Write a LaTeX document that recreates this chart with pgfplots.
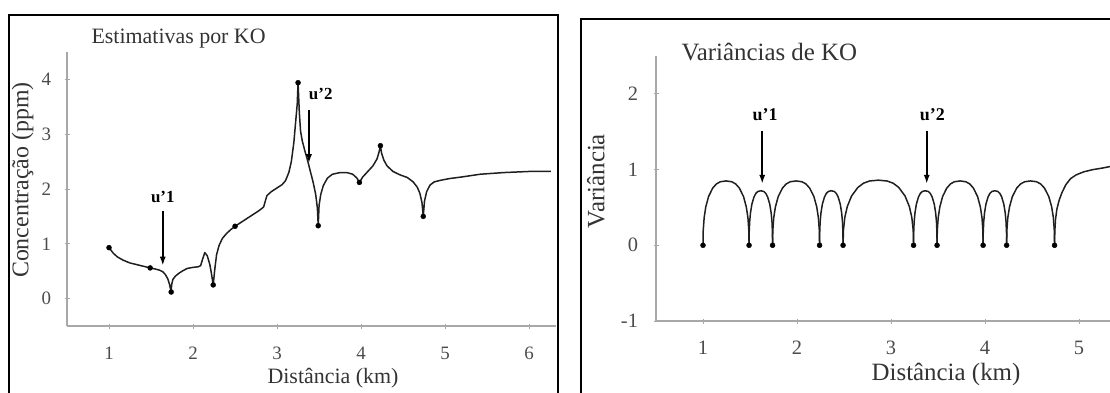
\documentclass[border=0pt]{standalone}
\usepackage{fontspec}
\setmainfont{Liberation Serif}
\usepackage{pgfplots}
\pgfplotsset{compat=1.18}
\usetikzlibrary{arrows.meta}

\definecolor{axgray}{gray}{0.66}
\definecolor{tickgray}{gray}{0.30}
\definecolor{curvec}{gray}{0.12}

\pgfplotstableread{
x y
1.00 0.93
1.05 0.83
1.10 0.76
1.17 0.70
1.25 0.65
1.33 0.62
1.41 0.59
1.49 0.56
1.55 0.54
1.60 0.52
1.64 0.49
1.67 0.44
1.70 0.36
1.72 0.26
1.74 0.12
1.745 0.25
1.76 0.35
1.79 0.41
1.83 0.46
1.88 0.51
1.93 0.55
2.00 0.57
2.06 0.58
2.09 0.60
2.11 0.70
2.14 0.84
2.17 0.78
2.20 0.62
2.22 0.45
2.24 0.25
2.26 0.55
2.28 0.80
2.31 0.97
2.35 1.10
2.40 1.19
2.45 1.26
2.50 1.32
2.58 1.40
2.68 1.50
2.78 1.60
2.84 1.67
2.86 1.78
2.88 1.88
2.93 1.95
3.00 2.02
3.06 2.08
3.10 2.15
3.14 2.30
3.17 2.50
3.20 2.85
3.22 3.20
3.24 3.55
3.25 3.94
3.265 3.40
3.28 3.05
3.30 2.88
3.33 2.70
3.36 2.54
3.40 2.30
3.43 2.12
3.46 1.90
3.48 1.65
3.49 1.33
3.50 1.70
3.52 1.90
3.55 2.06
3.60 2.20
3.66 2.27
3.75 2.30
3.83 2.30
3.90 2.27
3.95 2.20
3.98 2.12
4.02 2.22
4.08 2.32
4.14 2.42
4.19 2.55
4.215 2.68
4.23 2.79
4.245 2.65
4.27 2.53
4.31 2.42
4.38 2.32
4.46 2.26
4.55 2.21
4.62 2.13
4.67 2.03
4.70 1.92
4.725 1.75
4.74 1.50
4.755 1.78
4.78 1.95
4.82 2.07
4.87 2.13
4.95 2.16
5.05 2.19
5.20 2.22
5.42 2.27
5.70 2.30
6.00 2.32
6.26 2.32
}\conc

\pgfplotstableread{
x y
1.00 0.93
1.49 0.56
1.74 0.12
2.24 0.25
2.50 1.32
3.25 3.94
3.49 1.33
3.98 2.12
4.23 2.79
4.74 1.50
}\concpts

\pgfplotstableread{
x y
1.00 0
1.49 0
1.74 0
2.24 0
2.49 0
3.24 0
3.49 0
3.98 0
4.23 0
4.74 0
}\varpts

\pgfplotsset{
  panel/.style={
    scale only axis, anchor=south west,
    axis lines*=left,
    axis line style={axgray, line width=2bp},
    tick style={axgray, line width=1bp},
    major tick length=5bp,
    tick align=center,
    /pgf/number format/assume math mode=true,
    clip=false,
  },
  curve/.style={curvec, line width=1.5bp, line join=round, mark=none},
  pts/.style={only marks, mark=*, mark size=2.5bp, black},
}

\begin{document}
\begin{tikzpicture}[x=1bp,y=1bp]
\useasboundingbox (0,0) rectangle (1110,392);
% frames
\draw[line width=2.6bp] (9,-5) -- (9,377) -- (558,377) -- (558,-5);
\draw[line width=2.6bp] (581,-5) -- (581,373) -- (1115,373);

% ---------------- left panel ----------------
\begin{axis}[panel,
  at={(67bp,66bp)}, width=489bp, height=274bp,
  xmin=0.5, xmax=6.32, ymin=-0.5, ymax=4.5,
  xtick={1,2,3,4,5,6}, ytick={0,1,2,3,4},
  tick label style={font=\fontsize{19}{19}\selectfont, text=tickgray},
  xticklabel style={anchor=base, yshift=-31bp},
  yticklabel style={anchor=east, xshift=-10bp},
]
\addplot[curve] table {\conc};
\addplot[pts] table {\concpts};
\draw[-{Latex[length=9bp,width=6bp]}, line width=1.8bp] (axis cs:1.64,1.59) -- (axis cs:1.64,0.60);
\node[font=\bfseries\fontsize{17}{17}\selectfont] at (axis cs:1.64,1.86) {u'1};
\draw[-{Latex[length=9bp,width=6bp]}, line width=1.8bp] (axis cs:3.38,3.45) -- (axis cs:3.38,2.47);
\node[font=\bfseries\fontsize{17}{17}\selectfont] at (axis cs:3.52,3.74) {u'2};
\end{axis}
\node[anchor=base west, font=\fontsize{22}{22}\selectfont, text=black!80] at (88,349) {Estimativas por KO};
\node[anchor=base, font=\fontsize{22}{22}\selectfont, text=black!80] at (333,9) {Distância (km)};
\node[rotate=90, font=\fontsize{24}{24}\selectfont, text=black!80] at (22.5,212) {Concentração (ppm)};

% ---------------- right panel ----------------
\begin{axis}[panel,
  at={(656bp,71bp)}, width=454bp, height=265bp,
  xmin=0.5, xmax=5.33, ymin=-1, ymax=2.5,
  xtick={1,2,3,4,5}, ytick={-1,0,1,2},
  tick label style={font=\fontsize{20.5}{20.5}\selectfont, text=tickgray},
  xticklabel style={anchor=base, yshift=-31bp},
  yticklabel style={anchor=east, xshift=-12bp},
]
\addplot[curve] coordinates {(1.000,0) (1.0024,0.194) (1.0122,0.365) (1.0294,0.506) (1.0588,0.643) (1.1029,0.755) (1.1421,0.810) (1.1837,0.839) (1.245,0.85) (1.3063,0.839) (1.3479,0.810) (1.3871,0.755) (1.4312,0.643) (1.4606,0.506) (1.4778,0.365) (1.4876,0.194) (1.49,0)};
\addplot[curve] coordinates {(1.49,0) (1.4912,0.164) (1.4962,0.309) (1.505,0.428) (1.52,0.544) (1.5425,0.639) (1.5625,0.686) (1.5837,0.711) (1.615,0.72) (1.6463,0.711) (1.6675,0.686) (1.6875,0.639) (1.71,0.544) (1.725,0.428) (1.7338,0.309) (1.7388,0.164) (1.74,0)};
\addplot[curve] coordinates {(1.74,0) (1.7425,0.194) (1.7525,0.365) (1.77,0.506) (1.80,0.643) (1.845,0.755) (1.885,0.810) (1.9275,0.839) (1.99,0.85) (2.0525,0.839) (2.095,0.810) (2.135,0.755) (2.18,0.643) (2.21,0.506) (2.2275,0.365) (2.2375,0.194) (2.24,0)};
\addplot[curve] coordinates {(2.24,0) (2.2412,0.164) (2.2462,0.309) (2.255,0.428) (2.27,0.544) (2.2925,0.639) (2.3125,0.686) (2.3337,0.711) (2.365,0.72) (2.3963,0.711) (2.4175,0.686) (2.4375,0.639) (2.46,0.544) (2.475,0.428) (2.4838,0.309) (2.4888,0.164) (2.49,0)};
\addplot[curve] coordinates {(2.49,0) (2.4937,0.196) (2.5087,0.369) (2.535,0.512) (2.58,0.650) (2.6475,0.764) (2.7075,0.820) (2.7712,0.849) (2.865,0.86) (2.9588,0.849) (3.0225,0.820) (3.0825,0.764) (3.15,0.650) (3.195,0.512) (3.2213,0.369) (3.2363,0.196) (3.24,0)};
\addplot[curve] coordinates {(3.24,0) (3.2412,0.164) (3.2462,0.309) (3.255,0.428) (3.27,0.544) (3.2925,0.639) (3.3125,0.686) (3.3337,0.711) (3.365,0.72) (3.3963,0.711) (3.4175,0.686) (3.4375,0.639) (3.46,0.544) (3.475,0.428) (3.4838,0.309) (3.4888,0.164) (3.49,0)};
\addplot[curve] coordinates {(3.49,0) (3.4924,0.194) (3.5022,0.365) (3.5194,0.506) (3.5488,0.643) (3.5929,0.755) (3.6321,0.810) (3.6737,0.839) (3.735,0.85) (3.7963,0.839) (3.8379,0.810) (3.8771,0.755) (3.9212,0.643) (3.9506,0.506) (3.9678,0.365) (3.9776,0.194) (3.98,0)};
\addplot[curve] coordinates {(3.98,0) (3.9812,0.164) (3.9862,0.309) (3.995,0.428) (4.01,0.544) (4.0325,0.639) (4.0525,0.686) (4.0737,0.711) (4.105,0.72) (4.1363,0.711) (4.1575,0.686) (4.1775,0.639) (4.20,0.544) (4.215,0.428) (4.2238,0.309) (4.2288,0.164) (4.23,0)};
\addplot[curve] coordinates {(4.23,0) (4.2325,0.194) (4.2427,0.365) (4.2606,0.506) (4.2912,0.643) (4.3371,0.755) (4.3779,0.810) (4.4212,0.839) (4.485,0.85) (4.5488,0.839) (4.5921,0.810) (4.6329,0.755) (4.6788,0.643) (4.7094,0.506) (4.7273,0.365) (4.7375,0.194) (4.74,0)};
\addplot[curve] coordinates {(4.74,0) (4.7425,0.18) (4.75,0.34) (4.765,0.48) (4.79,0.60) (4.82,0.70) (4.86,0.80) (4.91,0.88) (4.97,0.93) (5.05,0.97) (5.15,1.00) (5.25,1.02) (5.33,1.04)};
\addplot[pts] table {\varpts};
\draw[-{Latex[length=9bp,width=6bp]}, line width=1.8bp] (axis cs:1.63,1.51) -- (axis cs:1.63,0.81);
\node[font=\bfseries\fontsize{18}{18}\selectfont] at (axis cs:1.66,1.72) {u'1};
\draw[-{Latex[length=9bp,width=6bp]}, line width=1.8bp] (axis cs:3.38,1.51) -- (axis cs:3.38,0.81);
\node[font=\bfseries\fontsize{18}{18}\selectfont] at (axis cs:3.44,1.72) {u'2};
\end{axis}
\node[anchor=base west, font=\fontsize{25}{25}\selectfont, text=black!80] at (678,332) {Variâncias de KO};
\node[anchor=base, font=\fontsize{25}{25}\selectfont, text=black!80] at (946,12) {Distância (km)};
\node[rotate=90, font=\fontsize{25}{25}\selectfont, text=black!80] at (596,211) {Variância};
\end{tikzpicture}
\end{document}
